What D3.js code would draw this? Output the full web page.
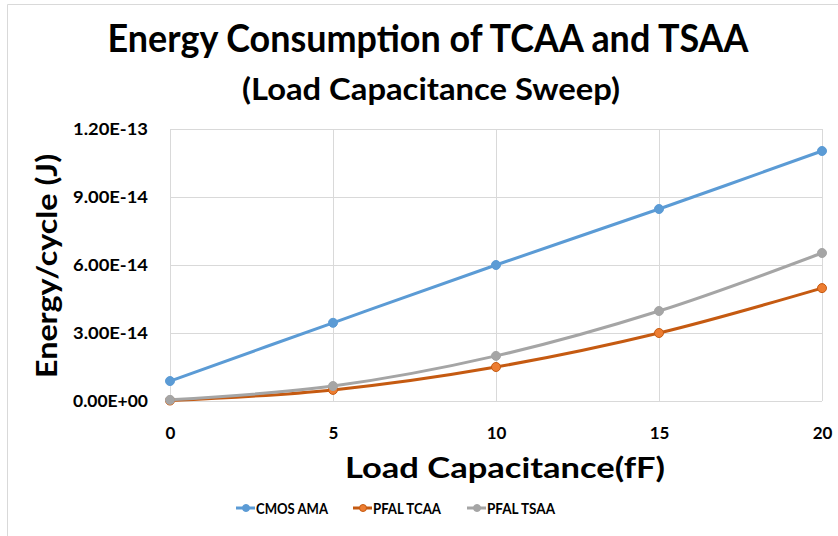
<!DOCTYPE html>
<html><head><meta charset="utf-8">
<script src="https://cdn.jsdelivr.net/npm/d3@7"></script>
<style>body{margin:0;background:#fff;} svg{display:block;} text{font-family:Lato,"Open Sans",sans-serif;font-weight:bold;fill:#000;}</style>
</head><body>
<svg id="c" width="838" height="536"></svg>
<script>
const capacitance = [0, 5, 10, 15, 20];
const cmosAMA  = [0.88e-14, 3.45e-14, 6.0e-14, 8.47e-14, 11.03e-14];
const pfalTCAA = [0.02e-14, 0.49e-14, 1.5e-14, 3.0e-14, 4.98e-14];
const pfalTSAA = [0.05e-14, 0.66e-14, 1.99e-14, 3.97e-14, 6.53e-14];
const seriesNames = ["CMOS AMA", "PFAL TCAA", "PFAL TSAA"];
const yTicks = [0, 3e-14, 6e-14, 9e-14, 1.2e-13];
const yTickLabels = ["0.00E+00", "3.00E-14", "6.00E-14", "9.00E-14", "1.20E-13"];
const xTicks = [0, 5, 10, 15, 20];

const colors = ["#5b9bd5", "#c55a11", "#a5a5a5"];
const markerColors = ["#5b9bd5", "#ed7d31", "#a5a5a5"];
const seriesData = [cmosAMA, pfalTCAA, pfalTSAA];

const svg = d3.select("#c");
svg.append("path").attr("d","M7.5,540 V4.5 H840").attr("fill","none").attr("stroke","#d9d9d9").attr("stroke-width",1);

const x = d3.scaleLinear().domain([0,20]).range([170,822]);
const y = d3.scaleLinear().domain([0,1.2e-13]).range([401,129]);

svg.append("g").selectAll("line").data(yTicks).join("line")
  .attr("x1",170).attr("x2",822).attr("y1",d=>Math.round(y(d))+0.5).attr("y2",d=>Math.round(y(d))+0.5)
  .attr("stroke","#d9d9d9").attr("stroke-width",1);
svg.append("g").selectAll("line").data(xTicks).join("line")
  .attr("x1",d=>Math.round(x(d))+0.5).attr("x2",d=>Math.round(x(d))+0.5).attr("y1",129).attr("y2",401)
  .attr("stroke","#d9d9d9").attr("stroke-width",1);

const yAxis = d3.axisLeft(y).tickValues(yTicks).tickFormat((d,i)=>yTickLabels[i]).tickSize(0).tickPadding(0);
const gy = svg.append("g").attr("transform","translate(148,0)").call(yAxis);
gy.select(".domain").remove();
gy.selectAll("text").attr("font-size",17).attr("font-family","Lato").attr("font-weight","bold").attr("fill","#000")
  .attr("textLength",75).attr("lengthAdjust","spacingAndGlyphs");

const xAxis = d3.axisBottom(x).tickValues(xTicks).tickFormat(d3.format("d")).tickSize(0).tickPadding(0);
const gx = svg.append("g").attr("transform","translate(0,427)").call(xAxis);
gx.select(".domain").remove();
gx.selectAll("text").attr("font-size",17).attr("font-family","Lato").attr("font-weight","bold").attr("fill","#000");

const line = d3.line().x((d,i)=>x(capacitance[i])).y(d=>y(d)).curve(d3.curveCatmullRom.alpha(0.5));
seriesData.forEach((s,k)=>{
  svg.append("path").datum(s).attr("d",line).attr("fill","none").attr("stroke",colors[k]).attr("stroke-width",3).attr("stroke-linecap","round");
});
seriesData.forEach((s,k)=>{
  svg.append("g").selectAll("circle").data(s).join("circle")
    .attr("cx",(d,i)=>x(capacitance[i])).attr("cy",d=>y(d)).attr("r",4.5)
    .attr("fill",markerColors[k]).attr("stroke",colors[k]).attr("stroke-width",1);
});

svg.append("text").attr("x",428).attr("y",52).attr("text-anchor","middle").attr("font-size",38)
  .attr("textLength",641).attr("lengthAdjust","spacingAndGlyphs").text("Energy Consumption of TCAA and TSAA");
svg.append("text").attr("x",431).attr("y",100).attr("text-anchor","middle").attr("font-size",30)
  .attr("textLength",378).attr("lengthAdjust","spacingAndGlyphs").text("(Load Capacitance Sweep)");
svg.append("text").attr("x",505).attr("y",478).attr("text-anchor","middle").attr("font-size",28)
  .attr("textLength",320).attr("lengthAdjust","spacingAndGlyphs").text("Load Capacitance(fF)");
svg.append("text").attr("transform","translate(57,266) rotate(-90)").attr("text-anchor","middle").attr("font-size",28)
  .attr("textLength",224).attr("lengthAdjust","spacingAndGlyphs").text("Energy/cycle (J)");

const legendX = [236, 353, 467];
const legendTextW = [72, 68, 68];
const lg = svg.append("g");
seriesNames.forEach((n,k)=>{
  const lx = legendX[k];
  lg.append("line").attr("x1",lx).attr("x2",lx+19).attr("y1",508).attr("y2",508).attr("stroke",colors[k]).attr("stroke-width",3);
  lg.append("circle").attr("cx",lx+10).attr("cy",508).attr("r",3.5).attr("fill",markerColors[k]).attr("stroke",colors[k]).attr("stroke-width",1);
  lg.append("text").attr("x",lx+20).attr("y",513.5).attr("font-size",16)
    .attr("textLength",legendTextW[k]).attr("lengthAdjust","spacingAndGlyphs").text(n);
});
</script>
</body></html>
